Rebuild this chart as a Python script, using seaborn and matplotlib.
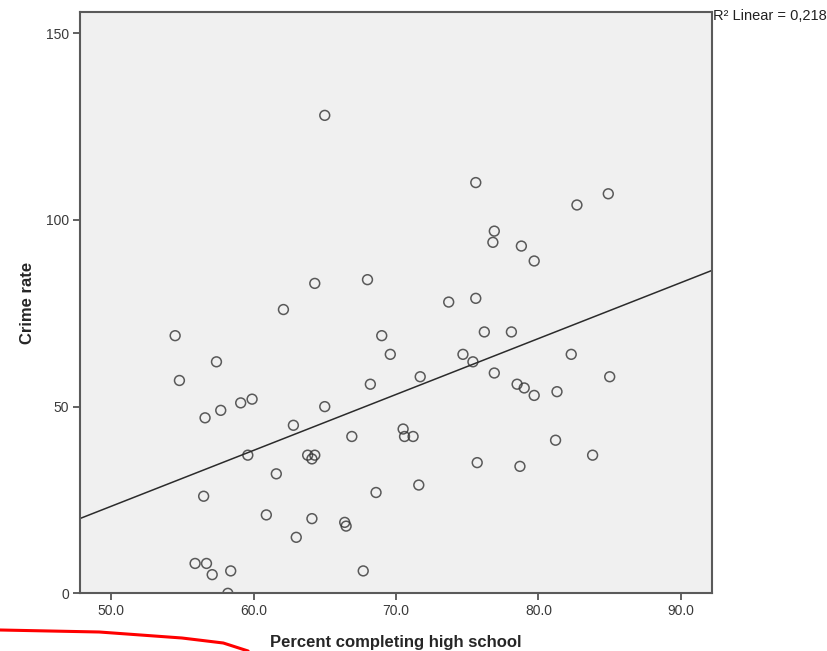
# Scatter of crime rate vs high school completion, SPSS-style with linear fit

import numpy as np
import pandas as pd
import seaborn as sb
from matplotlib import pyplot as plt
from matplotlib.lines import Line2D
from matplotlib.ticker import FormatStrFormatter

# values
pct_highschool = [
    65.0, 64.3, 68.0, 62.1, 75.6, 82.7, 84.9, 76.9, 76.8, 78.8,
    79.7, 73.7, 75.6, 54.5, 54.8, 57.4, 56.6, 57.7, 59.1, 59.9,
    65.0, 62.8, 59.6, 61.6, 63.8, 64.3, 64.1, 66.9, 69.0, 69.6,
    68.2, 70.5, 70.6, 71.2, 71.7, 71.6, 56.5, 68.6, 60.9, 64.1,
    66.4, 66.5, 63.0, 55.9, 56.7, 57.1, 58.4, 58.2, 67.7, 76.2,
    78.1, 74.7, 75.4, 82.3, 76.9, 85.0, 78.5, 79.0, 79.7, 81.3,
    81.2, 83.8, 75.7, 78.7,
]
crime_rate = [
    128, 83, 84, 76, 110, 104, 107, 97, 94, 93,
    89, 78, 79, 69, 57, 62, 47, 49, 51, 52,
    50, 45, 37, 32, 37, 37, 36, 42, 69, 64,
    56, 44, 42, 42, 58, 29, 26, 27, 21, 20,
    19, 18, 15, 8, 8, 5, 6, 0, 6, 70,
    70, 64, 62, 64, 59, 58, 56, 55, 53, 54,
    41, 37, 35, 34,
]
x_ticks = [50, 60, 70, 80, 90]
y_ticks = [0, 50, 100, 150]
r2_label = "R\u00b2 Linear = 0,218"

df = pd.DataFrame({"pct": pct_highschool, "crime": crime_rate})

sb.set_theme(style="white")
plt.rcParams['font.family'] = ['Liberation Sans', 'DejaVu Sans']

fig = plt.figure(figsize=(8.27, 6.51), dpi=100)
ax = fig.add_axes([0.0967, 0.0886, 0.7646, 0.8925])
ax.set_facecolor("#f0f0f0")
ax.set_xlim(47.82, 92.2)
ax.set_ylim(0, 155.6)

sb.regplot(data=df, x="pct", y="crime", ax=ax, ci=None, truncate=False,
           scatter_kws={"s": 50, "facecolors": "none", "edgecolors": "#333333",
                        "linewidths": 1.1},
           line_kws={"color": "#2b2b2b", "lw": 1.1})

ax.set_xlim(47.82, 92.2)
ax.set_ylim(0, 155.6)
ax.set_xticks(x_ticks)
ax.set_yticks(y_ticks)
ax.xaxis.set_major_formatter(FormatStrFormatter("%.1f"))
ax.tick_params(direction="out", length=5, width=1.3, color="#555555",
               labelsize=10, labelcolor="#3a3a3a", pad=3)
ax.tick_params(axis="x", bottom=True)
ax.tick_params(axis="y", left=True)
for sp in ax.spines.values():
    sp.set_color("#5a5a5a")
    sp.set_linewidth(1.5)

ax.set_xlabel("Percent completing high school", fontsize=12, fontweight="bold",
              labelpad=12)
ax.set_ylabel("Crime rate", fontsize=12, fontweight="bold", labelpad=8)

fig.text(0.862, 0.975, r2_label, fontsize=10.5, color="#222222", va="center",
         ha="left")

# red pen stroke from the screenshot
fig.add_artist(Line2D([0.0, 0.12, 0.22, 0.27, 0.30],
                      [1 - 630 / 651, 1 - 632 / 651, 1 - 638 / 651,
                       1 - 643 / 651, 1 - 651 / 651],
                      transform=fig.transFigure, color="red", lw=2.2))

plt.savefig("out.png", dpi=100)
